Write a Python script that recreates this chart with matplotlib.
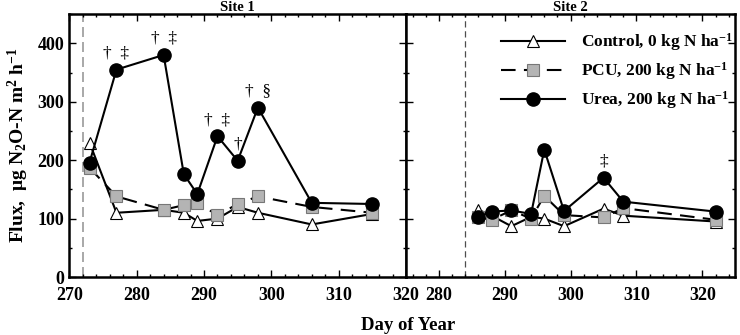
import numpy as np
import matplotlib.pyplot as plt
from matplotlib.ticker import MultipleLocator

plt.rcParams['font.family'] = ['Liberation Serif', 'DejaVu Serif']
plt.rcParams['font.weight'] = 'bold'
plt.rcParams['mathtext.default'] = 'regular'

# Site 1
day1 = [273, 277, 284, 287, 289, 292, 295, 298, 306, 315]
control1 = [230, 110, 115, 110, 96, 100, 120, 110, 90, 108]
pcu1 = [187, 138, 115, 123, 127, 106, 125, 138, 120, 110]
urea1 = [196, 355, 380, 176, 142, 241, 199, 290, 127, 125]

# Site 2
day2 = [286, 288, 291, 294, 296, 299, 305, 308, 322]
control2 = [115, 105, 87, 103, 100, 87, 117, 105, 95]
pcu2 = [102, 98, 114, 100, 139, 106, 102, 118, 98]
urea2 = [102, 112, 114, 108, 218, 113, 170, 129, 112]

# significance marks: (day, label)
marks1 = [(277, '†  ‡'), (284, '†  ‡'), (292, '†  ‡'), (295, '†'), (298, '†  §')]
marks2 = [(305, '‡')]

fert1 = 272
fert2 = 284

fig = plt.figure(figsize=(7.4, 3.35), dpi=100)
ax1 = fig.add_axes([0.0937, 0.173, 0.455, 0.785])
ax2 = fig.add_axes([0.5486, 0.173, 0.445, 0.785])


def draw_site(ax, day, control, pcu, urea, marks, fert, xlim, title):
    # fertilizer date
    if ax is ax1:
        ax.axvline(fert, color='0.6', lw=1.2, ls=(0, (6, 3)), zorder=1)
    else:
        ax.axvline(fert, color='0.3', lw=0.9, ls=(0, (5, 3)), zorder=1)
    ax.plot(day, control, '-', color='k', lw=1.5, marker='^', ms=9,
            mfc='white', mec='k', mew=0.8, label='Control, 0 kg N ha$^{-1}$', zorder=3)
    ax.plot(day, pcu, '--', color='k', lw=1.5, dashes=(7, 4), marker='s', ms=8.5,
            mfc='#b4b4b4', mec='#777777', mew=0.8, label='PCU, 200 kg N ha$^{-1}$', zorder=4)
    ax.plot(day, urea, '-', color='k', lw=1.5, marker='o', ms=9.5,
            mfc='k', mec='k', label='Urea, 200 kg N ha$^{-1}$', zorder=5)
    for d, lab in marks:
        y = urea[day.index(d)]
        ax.text(d, y + 14, lab, ha='center', va='bottom', fontsize=12.5, fontweight='normal')
    ax.set_xlim(*xlim)
    ax.set_ylim(0, 450)
    ax.set_title(title, fontsize=10.5, fontweight='bold', pad=1.5)
    ax.xaxis.set_major_locator(MultipleLocator(10))
    ax.xaxis.set_minor_locator(MultipleLocator(2))
    ax.yaxis.set_major_locator(MultipleLocator(100))
    ax.yaxis.set_minor_locator(MultipleLocator(50))
    ax.tick_params(which='both', direction='in', top=True, right=True, labelsize=13, width=1)
    ax.tick_params(which='major', length=5)
    ax.tick_params(which='minor', length=2.5)
    ax.tick_params(axis='x', pad=7)
    for s in ax.spines.values():
        s.set_linewidth(1.8)


draw_site(ax1, day1, control1, pcu1, urea1, marks1, fert1, (270, 320), 'Site 1')
draw_site(ax2, day2, control2, pcu2, urea2, marks2, fert2, (275, 325), 'Site 2')

ax1.set_yticks([0, 100, 200, 300, 400])
ax2.tick_params(labelleft=False)
ax1.set_ylabel('Flux,  μg N$_2$O-N m$^2$ h$^{-1}$', fontsize=14, fontweight='bold', labelpad=5)
fig.text(0.552, 0.003, 'Day of Year', ha='center', va='bottom', fontsize=13.5, fontweight='bold')

ax2.legend(loc='upper right', frameon=False, handlelength=3.7,
           borderaxespad=0.2, labelspacing=0.42, handletextpad=0.9,
           prop={'weight': 'bold', 'size': 12.5}, bbox_to_anchor=(1.025, 0.975))

fig.savefig('out.png', dpi=100)
